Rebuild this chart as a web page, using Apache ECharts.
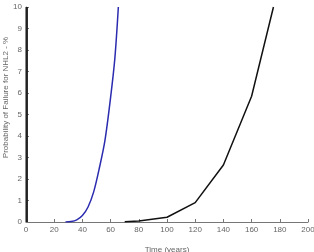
<!DOCTYPE html>
<html>
<head>
<meta charset="utf-8">
<script src="https://cdn.jsdelivr.net/npm/echarts@6/dist/echarts.min.js"></script>
<style>
    html, body { margin: 0; padding: 0; background: #fff; }
    #chart { width: 314px; height: 252px; }
</style>
</head>
<body>
<div id="chart"></div>
<script>
    // x ticks and y ticks
    const xTicks = [0, 20, 40, 60, 80, 100, 120, 140, 160, 180, 200];
    const yTicks = [0, 1, 2, 3, 4, 5, 6, 7, 8, 9, 10];

    // blue curve (time, %)
    const blueX = [28, 32, 36, 40, 44, 48, 52, 56, 60, 63, 65.5];
    const blueY = [0, 0.02, 0.1, 0.3, 0.7, 1.4, 2.5, 3.8, 5.8, 7.6, 10];

    // black curve (time, %)
    const blackX = [70, 80, 100, 120, 140, 160, 175.5];
    const blackY = [0.01, 0.05, 0.22, 0.9, 2.65, 5.85, 10];

    // near-vertical curve at the left edge
    const edgeX = [0.5, 0.5];
    const edgeY = [0, 10];

    const zip = (xs, ys) => xs.map((x, i) => [x, ys[i]]);

    const chart = echarts.init(document.getElementById('chart'));
    const labelStyle = {color: '#666', fontSize: 8, fontFamily: 'Liberation Sans'};

    chart.setOption({
        animation: false,
        grid: {left: 26, right: 6, top: 7, bottom: 30, containLabel: false, outerBoundsMode: 'none'},
        xAxis: {
            type: 'value',
            min: xTicks[0],
            max: xTicks[xTicks.length - 1],
            interval: 20,
            name: 'Time (years)',
            nameLocation: 'middle',
            nameGap: 24,
            nameMoveOverlap: false,
            nameTextStyle: labelStyle,
            axisLine: {lineStyle: {color: '#777'}},
            axisTick: {inside: true, length: 3, lineStyle: {color: '#777'}},
            axisLabel: Object.assign({margin: 4}, labelStyle),
            splitLine: {show: false}
        },
        yAxis: {
            type: 'value',
            min: yTicks[0],
            max: yTicks[yTicks.length - 1],
            interval: 1,
            name: 'Probability of Failure for NHL2 - %',
            nameLocation: 'middle',
            nameGap: 16,
            nameMoveOverlap: false,
            nameTextStyle: Object.assign({padding: [0, 0, 0, 34]}, labelStyle),
            axisLine: {show: true, lineStyle: {color: '#777'}},
            axisTick: {show: true, inside: true, length: 3, lineStyle: {color: '#777'}},
            axisLabel: Object.assign({margin: 4}, labelStyle),
            splitLine: {show: false}
        },
        series: [
            {
                type: 'line',
                data: zip(edgeX, edgeY),
                showSymbol: false,
                lineStyle: {color: '#222', width: 2.5}
            },
            {
                type: 'line',
                data: zip(blueX, blueY),
                smooth: 0.3,
                showSymbol: false,
                lineStyle: {color: '#2b2bb0', width: 1.5}
            },
            {
                type: 'line',
                data: zip(blackX, blackY),
                showSymbol: false,
                lineStyle: {color: '#111', width: 1.5}
            }
        ]
    });
</script>
</body>
</html>
